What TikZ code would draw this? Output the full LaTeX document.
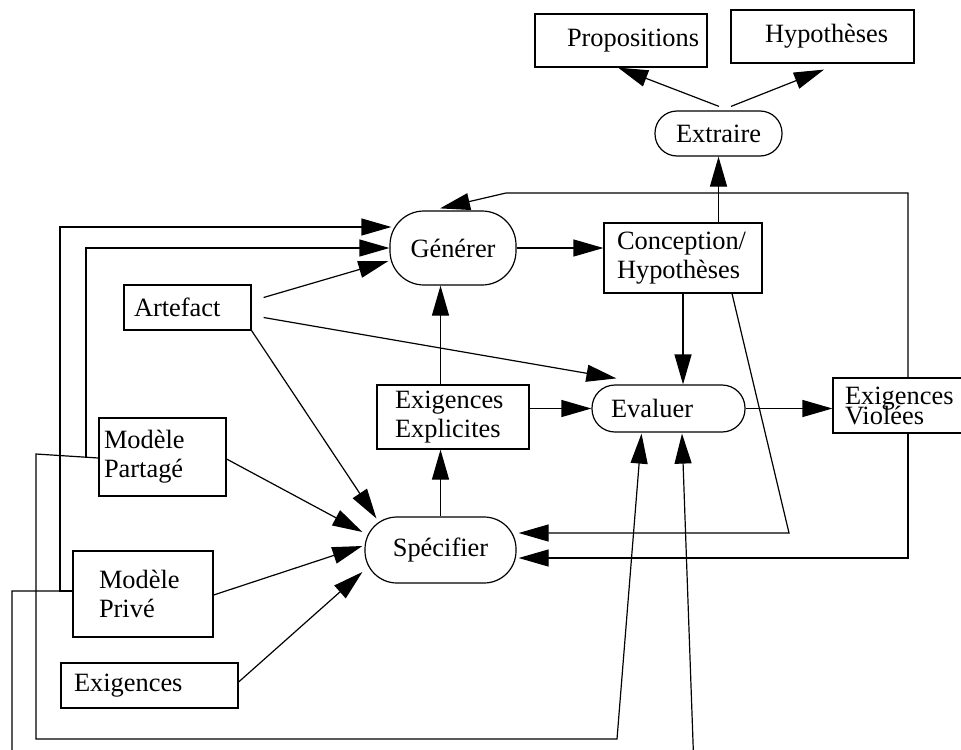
\documentclass[tikz,border=0pt]{standalone}
\usepackage{fontspec}
\setmainfont{Liberation Serif}
\usetikzlibrary{arrows.meta,calc}
% two lines set closer than the usual leading
\newcommand\violfont{\fontsize{13.2pt}{10pt}\selectfont\lineskiplimit=-20pt\lineskip=0pt\relax}
\begin{document}
\begin{tikzpicture}[x=0.5pt,y=-0.5pt,
  every node/.style={font=\fontsize{13.2pt}{14.5pt}\selectfont},
  box/.style={draw, line width=0.6pt, fill=white, inner ysep=0pt, align=left},
  pill/.style={draw, line width=0.6pt, fill=white, inner sep=0pt, align=center},
  arr/.style={-{Triangle[length=15pt,width=8.5pt]}, line width=0.6pt},
  ln/.style={line width=0.6pt}]
\clip (0,0) rectangle (961,749);
\fill[white] (0,0) rectangle (961,749);

% activities (rounded) and artefacts (boxes)
\node[box, minimum height=26.5pt, text width=54pt, inner xsep=16pt] (prop) at (621,40.5) {Propositions};
\node[box, minimum height=26.5pt, text width=57.5pt, inner xsep=17pt] (hyp) at (822.5,36.5) {Hypothèses};
\node[pill, minimum width=63.5pt, minimum height=22.5pt, rounded corners=11pt] (extr) at (718.5,133.5) {Extraire};
\node[pill, minimum width=63pt, minimum height=37pt, rounded corners=17pt] (gen) at (453,248) {Générer};
\node[box, minimum height=35pt, text width=66pt, inner xsep=6.5pt] (conc) at (683,258) {Conception/\\Hypothèses};
\node[box, minimum height=22.5pt, text width=53.5pt, inner xsep=5pt] (art) at (187.5,307.5) {Artefact};
\node[box, minimum height=32pt, text width=58pt, inner xsep=9pt] (eexp) at (453,417) {Exigences\\Explicites};
\node[box, minimum height=23.5pt, text width=57.5pt, inner xsep=9.5pt, rounded corners=11.5pt] (eval) at (668.5,408.5) {Evaluer};
\node[box, minimum height=27.5pt, text width=54pt, inner xsep=6pt, font=\violfont] (viol) at (899,405.5) {Exigences\\Violées};
\node[pill, minimum width=75.5pt, minimum height=33pt, rounded corners=16pt] (spec) at (440.5,550) {Spécifier};
\node[box, minimum height=39pt, text width=58.5pt, inner xsep=2.5pt] (mpart) at (162.5,457) {Modèle\\Partagé};
\node[box, minimum height=43pt, text width=44pt, inner xsep=13pt] (mpriv) at (143,594) {Modèle\\Privé};
\node[box, minimum height=22.5pt, text width=75.5pt, inner xsep=6.5pt] (exig) at (149.5,685.5) {Exigences};

% routing points
\coordinate (rv) at (908,193);
\coordinate (tl) at (506,193);
\coordinate (rb) at (908,558);
\coordinate (cb) at (789,533);
\coordinate (a1) at (60,591);
\coordinate (a2) at (12,591);
\coordinate (a3) at (12,770);
\coordinate (a4) at (694,770);
\coordinate (b1) at (36,454);
\coordinate (b2) at (36,739);
\coordinate (b3) at (617,739);
\coordinate (b4) at (86,457);

% extraction
\draw[arr] ($(extr.north)+(0.5,-4)$) -- ($(prop.south)+(-3,0)$);
\draw[arr] ($(extr.north)+(12.5,-4)$) -- ($(hyp.south)+(1.5,6)$);
\draw[arr] (extr.south |- conc.north) -- (extr.south);

% main flow
\draw[arr] (gen.east) -- (gen.east -| conc.west);
\draw[arr] (conc.south) -- (conc.south |- eval.north);
\draw[arr] (spec.north) -- (spec.north |- eexp.south);
\draw[arr] (spec.north |- eexp.north) -- (spec.north |- gen.south);
\draw[arr] (eexp.east |- eval.west) -- (eval.west);
\draw[arr] (eval.east) -- (eval.east -| viol.west);

% feedback from violated requirements
\draw[arr] (viol.north -| rv) -- (rv) -- (tl) -- ($(gen.north)+(-13,-2)$);
\draw[arr] (viol.south -| rb) -- (rb) -- ($(spec.east)+(2,8)$);
\draw[arr] ($(conc.south)+(49,0)$) -- (cb) -- ($(spec.east)+(2,-17)$);

% artefact
\draw[arr] ($(art.east)+(12,-10)$) -- ($(gen.west)+(-1,13)$);
\draw[arr] ($(art.east)+(12,10)$) -- ($(eval.north west)+(25,-6)$);
\draw[arr] (art.south east) -- ($(spec.north west)+(12,2)$);

% models and requirements into specification
\draw[arr] ($(mpart.east)+(0,2)$) -- ($(spec.west)+(-2,-18)$);
\draw[arr] ($(mpriv.east)+(0,1)$) -- ($(spec.west)+(-2,-4)$);
\draw[arr] ($(exig.east)+(0,-3.5)$) -- ($(spec.west)+(-2,22)$);

% private model routes
\draw[arr] ($(mpriv.west)+(0,-3)$) -- (a1) |- ($(gen.west)+(2,-21)$);
\draw[arr] (a1) -- (a2) -- (a3) -- (a4) -- ($(eval.south)+(13.5,1)$);

% shared model routes
\draw[arr] ($(mpart.west)+(0,1)$) -- (b1) -- (b2) -- (b3) -- ($(eval.south)+(-27,1)$);
\draw[arr] (b4) |- (gen.west);
\end{tikzpicture}
\end{document}
